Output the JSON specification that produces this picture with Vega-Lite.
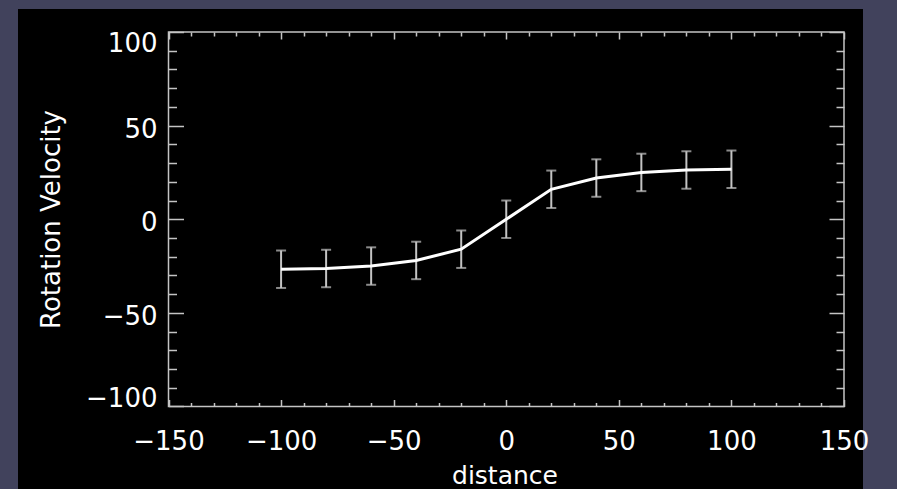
{
  "$schema": "https://vega.github.io/schema/vega-lite/v6.json",
  "autosize": {"type": "none"},
  "width": 845,
  "height": 480,
  "padding": {"left": 18, "top": 9, "right": 34, "bottom": 0},
  "background": "#41425c",
  "config": {
    "view": {"fill": "#000000", "stroke": null},
    "font": "DejaVu Sans",
    "axis": {"grid": false, "labelOverlap": false, "labelFlush": false, "labelBound": false}
  },
  "resolve": {"axis": {"x": "independent", "y": "independent"}},
  "data": {
    "values": [
      {"d": -100, "v": -26.7, "lo": -36.7, "hi": -16.7},
      {"d": -80, "v": -26.3, "lo": -36.3, "hi": -16.3},
      {"d": -60, "v": -25.0, "lo": -35.0, "hi": -15.0},
      {"d": -40, "v": -22.0, "lo": -32.0, "hi": -12.0},
      {"d": -20, "v": -16.0, "lo": -26.0, "hi": -6.0},
      {"d": 0, "v": 0.0, "lo": -10.0, "hi": 10.0},
      {"d": 20, "v": 16.0, "lo": 6.0, "hi": 26.0},
      {"d": 40, "v": 22.0, "lo": 12.0, "hi": 32.0},
      {"d": 60, "v": 25.0, "lo": 15.0, "hi": 35.0},
      {"d": 80, "v": 26.3, "lo": 16.3, "hi": 36.3},
      {"d": 100, "v": 26.7, "lo": 16.7, "hi": 36.7}
    ]
  },
  "layer": [
    {
      "data": {"values": [{"xa": -150, "xb": 150, "ya": -100, "yb": 100}]},
      "mark": {"type": "rect", "fill": "transparent", "stroke": "#c4c4c4", "strokeWidth": 1.5},
      "encoding": {
        "x": {"field": "xa", "type": "quantitative",
          "scale": {"domain": [-216.84, 158.44], "nice": false, "zero": false},
          "axis": {"orient": "bottom", "offset": -82.5, "values": [-150, -100, -50, 0, 50, 100, 150],
            "domain": false, "ticks": false, "tickSize": 0, "labelPadding": 42.5,
            "labelBaseline": "alphabetic", "labelAlign": "center", "labelFontSize": 26, "labelColor": "#ffffff",
            "title": "distance", "titleX": 486.5, "titleY": 76.5, "titleAlign": "center",
            "titleBaseline": "alphabetic", "titleFontSize": 25, "titleFontWeight": "normal", "titleColor": "#ffffff"}},
        "x2": {"field": "xb"},
        "y": {"field": "ya", "type": "quantitative",
          "scale": {"domain": [-144.06, 112.28], "nice": false, "zero": false},
          "axis": {"orient": "left", "offset": -150.5, "values": [-100, -50, 0, 50, 100],
            "domain": false, "ticks": false, "tickSize": 0, "labelPadding": 11.5,
            "labelBaseline": "alphabetic", "labelAlign": "right", "labelFontSize": 26, "labelColor": "#ffffff",
            "labelOffset": {"condition": [{"test": "datum.value == 100", "value": 19.5}, {"test": "datum.value == -100", "value": 0}], "value": 11.7},
            "title": "Rotation Velocity", "titleX": -109, "titleY": 210, "titleAngle": 270, "titleAlign": "center",
            "titleBaseline": "alphabetic", "titleFontSize": 26, "titleFontWeight": "normal", "titleColor": "#ffffff"}},
        "y2": {"field": "yb"}
      }
    },
    {
      "mark": {"type": "rule", "color": "#c4c4c4", "strokeWidth": 2},
      "encoding": {
        "x": {"field": "d", "type": "quantitative",
          "scale": {"domain": [-216.84, 158.44], "nice": false, "zero": false},
          "axis": {"orient": "top", "offset": -397.5, "values": [-150, -100, -50, 0, 50, 100, 150],
            "domain": false, "labels": false, "tickSize": 7, "tickColor": "#c4c4c4", "tickWidth": 1.5, "title": null}},
        "y": {"field": "lo", "type": "quantitative",
          "scale": {"domain": [-144.06, 112.28], "nice": false, "zero": false},
          "axis": {"orient": "right", "offset": -694.5, "values": [-100, -50, 0, 50, 100],
            "domain": false, "labels": false, "tickSize": 15, "tickColor": "#c4c4c4", "tickWidth": 1.5, "title": null}},
        "y2": {"field": "hi"}
      }
    },
    {
      "mark": {"type": "tick", "orient": "horizontal", "color": "#c4c4c4", "size": 10, "thickness": 2},
      "encoding": {
        "x": {"field": "d", "type": "quantitative",
          "scale": {"domain": [-216.84, 158.44], "nice": false, "zero": false},
          "axis": {"orient": "top", "offset": -397.5,
            "values": [-140, -130, -120, -110, -90, -80, -70, -60, -40, -30, -20, -10, 10, 20, 30, 40, 60, 70, 80, 90, 110, 120, 130, 140],
            "domain": false, "labels": false, "tickSize": 4, "tickColor": "#c4c4c4", "tickWidth": 1.5, "title": null}},
        "y": {"field": "lo", "type": "quantitative",
          "scale": {"domain": [-144.06, 112.28], "nice": false, "zero": false},
          "axis": {"orient": "right", "offset": -694.5,
            "values": [-90, -80, -70, -60, -40, -30, -20, -10, 10, 20, 30, 40, 60, 70, 80, 90],
            "domain": false, "labels": false, "tickSize": 8, "tickColor": "#c4c4c4", "tickWidth": 1.5, "title": null}}
      }
    },
    {
      "mark": {"type": "tick", "orient": "horizontal", "color": "#c4c4c4", "size": 10, "thickness": 2},
      "encoding": {
        "x": {"field": "d", "type": "quantitative",
          "scale": {"domain": [-216.84, 158.44], "nice": false, "zero": false},
          "axis": {"orient": "bottom", "offset": -457, "values": [-150, -100, -50, 0, 50, 100, 150],
            "domain": false, "labels": false, "tickSize": 7, "tickColor": "#c4c4c4", "tickWidth": 1.5, "title": null}},
        "y": {"field": "hi", "type": "quantitative",
          "scale": {"domain": [-144.06, 112.28], "nice": false, "zero": false},
          "axis": {"orient": "left", "offset": -826, "values": [-100, -50, 0, 50, 100],
            "domain": false, "labels": false, "tickSize": 15, "tickColor": "#c4c4c4", "tickWidth": 1.5, "title": null}}
      }
    },
    {
      "mark": {"type": "line", "color": "#ffffff", "strokeWidth": 3},
      "encoding": {
        "x": {"field": "d", "type": "quantitative",
          "scale": {"domain": [-216.84, 158.44], "nice": false, "zero": false},
          "axis": {"orient": "bottom", "offset": -457,
            "values": [-140, -130, -120, -110, -90, -80, -70, -60, -40, -30, -20, -10, 10, 20, 30, 40, 60, 70, 80, 90, 110, 120, 130, 140],
            "domain": false, "labels": false, "tickSize": 4, "tickColor": "#c4c4c4", "tickWidth": 1.5, "title": null}},
        "y": {"field": "v", "type": "quantitative",
          "scale": {"domain": [-144.06, 112.28], "nice": false, "zero": false},
          "axis": {"orient": "left", "offset": -826,
            "values": [-90, -80, -70, -60, -40, -30, -20, -10, 10, 20, 30, 40, 60, 70, 80, 90],
            "domain": false, "labels": false, "tickSize": 8, "tickColor": "#c4c4c4", "tickWidth": 1.5, "title": null}}
      }
    }
  ]
}
